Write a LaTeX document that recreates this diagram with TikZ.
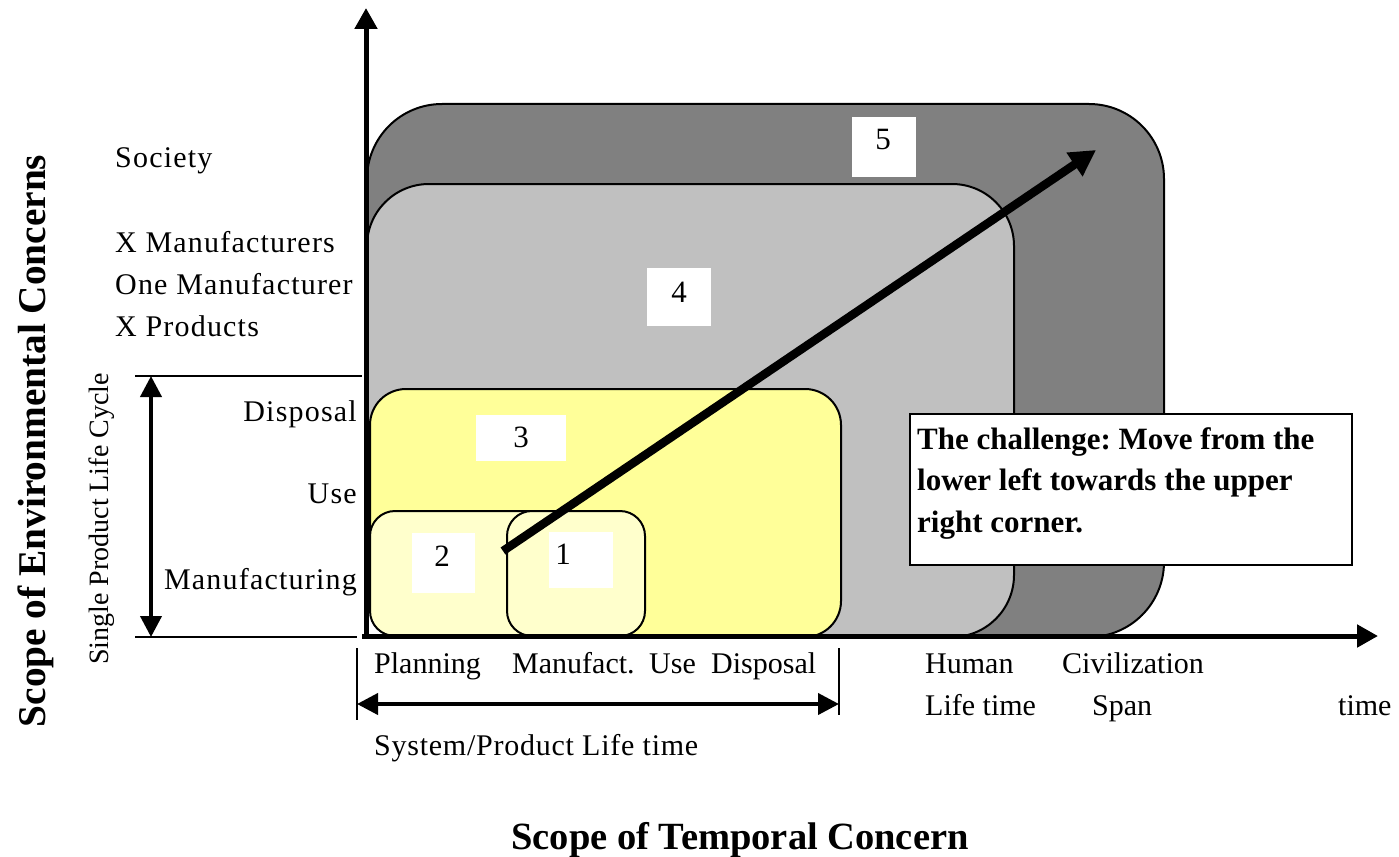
\documentclass[tikz,border=0pt]{standalone}
\usepackage{fontspec}
\setmainfont{Liberation Serif}
\usetikzlibrary{arrows.meta}
\definecolor{darkzone}{HTML}{808080}
\definecolor{lightzone}{HTML}{C0C0C0}
\definecolor{yellowzone}{HTML}{FFFF99}
\definecolor{paleyellow}{HTML}{FFFFCC}
\frenchspacing

\begin{document}
\begin{tikzpicture}[x=1pt,y=-1pt,
  zone/.style={draw=black, line width=2pt, anchor=north west, inner sep=0pt},
  numbox/.style={fill=white, inner sep=0pt},
  digit/.style={font=\fontsize{31}{36}\selectfont, inner sep=0pt},
  lbl/.style={font=\fontsize{30}{36}\selectfont, inner sep=0pt},
  lblwide/.style={font=\fontsize{30}{36}\selectfont\addfontfeatures{LetterSpace=4}, inner sep=0pt},
  ttl/.style={font=\bfseries\fontsize{38.5}{46}\selectfont, inner sep=0pt},
  axis/.style={line width=5pt, -{Triangle[length=21pt,width=22pt]}},
  span/.style={line width=4pt, {Triangle[length=21pt,width=21pt]}-{Triangle[length=21pt,width=21pt]}},
  tick/.style={line width=2pt},
]
\useasboundingbox (0,0) rectangle (1399,856);

% nested scopes, from the widest to the narrowest
\node[zone, fill=darkzone, rounded corners=75pt, minimum width=797pt, minimum height=533pt] (z5) at (366,103) {};
\node[zone, fill=lightzone, rounded corners=62pt, minimum width=647pt, minimum height=453pt] (z4) at (366,183) {};
\node[zone, fill=yellowzone, rounded corners=36pt, minimum width=471pt, minimum height=248pt] (z3) at (369,388) {};
\node[zone, fill=paleyellow, rounded corners=25pt, minimum width=231pt, minimum height=125pt] (z2) at (369,510) {};
\node[zone, fill=paleyellow, rounded corners=25pt, minimum width=138pt, minimum height=125pt] (z1) at (506,510) {};

% number tags
\node[numbox, minimum width=64pt, minimum height=60pt] (n5) at (884,147) {};
\node[numbox, minimum width=64pt, minimum height=58pt] (n4) at (679,297) {};
\node[numbox, minimum width=90pt, minimum height=46pt] (n3) at (521,438) {};
\node[numbox, minimum width=63pt, minimum height=60pt] (n2) at (443.5,563) {};
\node[numbox, minimum width=64pt, minimum height=56pt] (n1) at (581,560) {};
\node[digit] (d5) at (883,140) {5};
\node[digit] (d4) at (679,292) {4};
\node[digit] (d3) at (521,437) {3};
\node[digit] (d2) at (442,556) {2};
\node[digit] (d1) at (563,554) {1};

% axes
\coordinate (origin) at (366,638);
\coordinate (ytop) at (366,8);
\coordinate (xstart) at (362,636);
\coordinate (xend) at (1378,636);
\draw[axis] (origin) -- (ytop);
\draw[axis] (xstart) -- (xend);

% direction of the challenge
\coordinate (trendstart) at (503,551);
\coordinate (trendend) at (1096,150);
\draw[line width=8.5pt, -{Triangle[length=26pt,width=27pt]}] (trendstart) -- (trendend);

\node[draw, line width=2pt, fill=white, minimum width=442pt, minimum height=151pt, anchor=north west, inner sep=0pt] (challenge) at (909,413) {};
\node[anchor=north west, align=left, inner sep=0pt, font=\bfseries\fontsize{31}{41.5}\selectfont] (challengetext) at (917,427)
  {The challenge: Move from the\\lower left towards the upper\\right corner.};

% environmental scope levels
\node[lblwide, anchor=base west] (society) at (115,167) {Society};
\node[lblwide, anchor=base west] (xmanuf) at (115,252) {X Manufacturers};
\node[lblwide, anchor=base west] (onemanuf) at (115,294) {One Manufacturer};
\node[lblwide, anchor=base west] (xprod) at (115,336) {X Products};
\node[lblwide, anchor=base east] (disp) at (357,421) {Disposal};
\node[lblwide, anchor=base east] (use) at (357,503) {Use};
\node[lblwide, anchor=base east] (manuf) at (357,589) {Manufacturing};

% single product life cycle bracket
\coordinate (lct0) at (135,376);
\coordinate (lct1) at (362,376);
\coordinate (lcb0) at (135,637);
\coordinate (lcb1) at (357,637);
\draw[tick] (lct0) -- (lct1);
\draw[tick] (lcb0) -- (lcb1);
\coordinate (lcA) at (151,376);
\coordinate (lcB) at (151,637);
\draw[span] (lcA) -- (lcB);
\node[font=\fontsize{28}{34}\selectfont, rotate=90, inner sep=0pt] (lifecycle) at (102,519) {Single Product Life Cycle};

% temporal scope levels
\node[lbl, anchor=base west] (planning) at (374,673) {Planning};
\node[lbl, anchor=base west] (manufact) at (512,673) {Manufact.};
\node[lbl, anchor=base west] (tuse) at (649,673) {Use};
\node[lbl, anchor=base west] (tdisp) at (711,673) {Disposal};
\node[lbl, anchor=base west] (human) at (925,673) {Human};
\node[lbl, anchor=base west] (civil) at (1062,673) {Civilization};
\node[lbl, anchor=base west] (lifet) at (925,715) {Life time};
\node[lbl, anchor=base west] (span) at (1092,715) {Span};
\node[lbl, anchor=base west] (timelbl) at (1338,715) {time};

% product life time bracket
\coordinate (plL0) at (357,648);
\coordinate (plL1) at (357,720);
\coordinate (plR0) at (839,648);
\coordinate (plR1) at (839,715);
\draw[tick] (plL0) -- (plL1);
\draw[tick] (plR0) -- (plR1);
\coordinate (plA) at (357,704);
\coordinate (plB) at (839,704);
\draw[span] (plA) -- (plB);
\node[font=\fontsize{30}{36}\selectfont\addfontfeatures{LetterSpace=2.5}, inner sep=0pt, anchor=base west] (syslife) at (374,755) {System/Product Life time};

% axis titles
\node[ttl, anchor=base] (xtitle) at (740,849) {Scope of Temporal Concern};
\node[ttl, font=\bfseries\fontsize{39.3}{46}\selectfont, rotate=90] (ytitle) at (36,441) {Scope of Environmental Concerns};
\end{tikzpicture}
\end{document}
